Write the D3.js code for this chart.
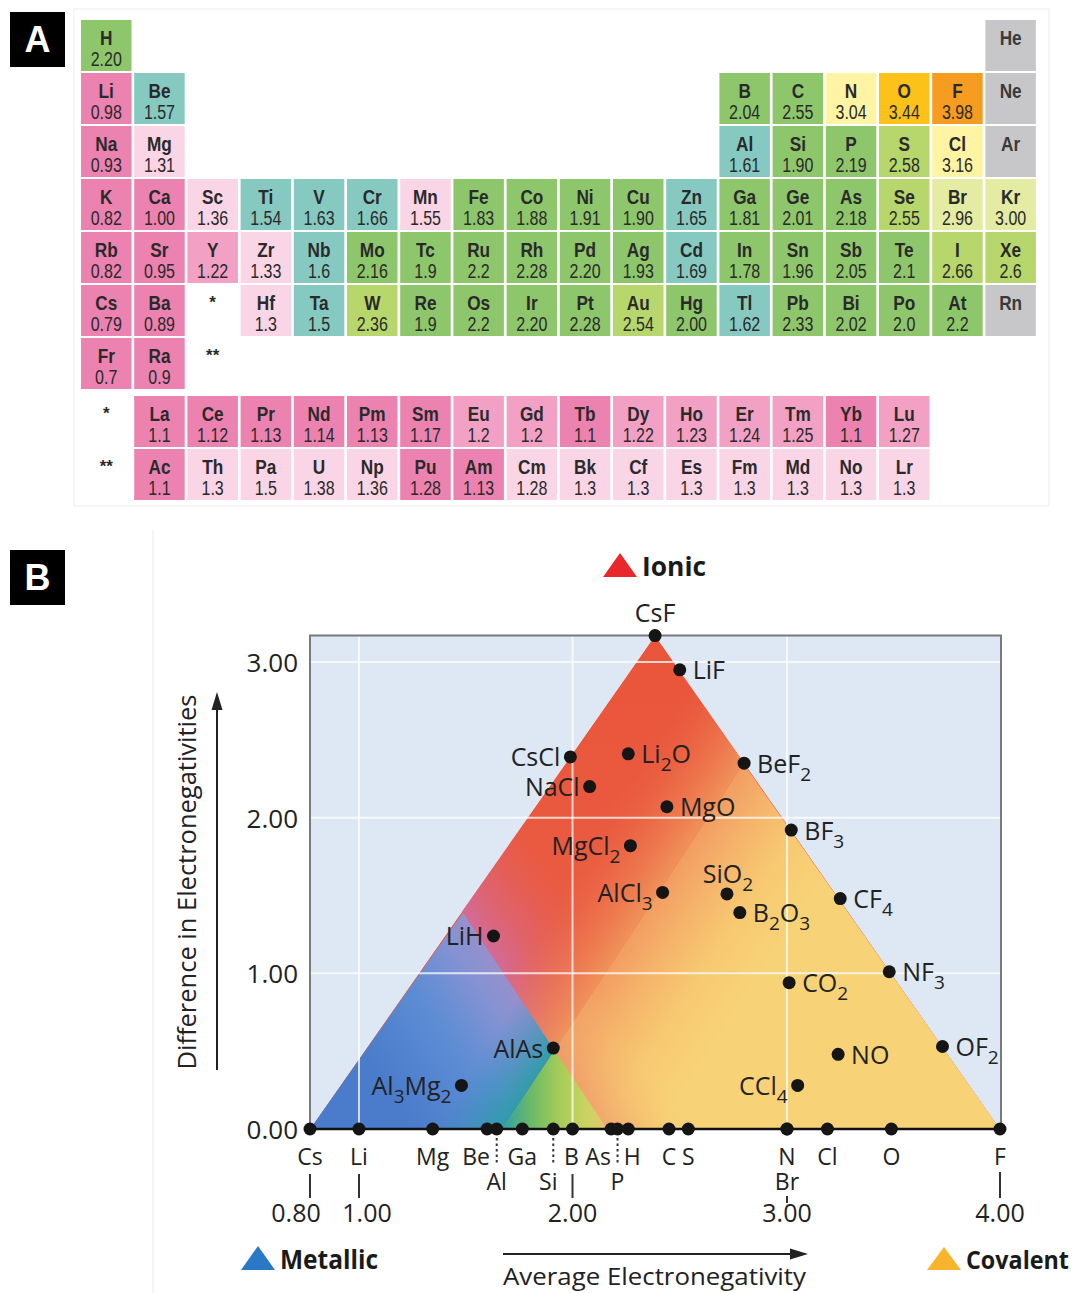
<!DOCTYPE html>
<html>
<head>
<meta charset="utf-8">
<script src="https://cdn.jsdelivr.net/npm/d3@7/dist/d3.min.js"></script>
<style>
  html,body{margin:0;padding:0;background:#fff;}
  svg{display:block;}
</style>
</head>
<body>
<svg id="chart" width="1076" height="1293"></svg>
<script>
// ================= DATA : Panel A (electronegativity table) =================
const elSymbols = [
  "H","He",
  "Li","Be","B","C","N","O","F","Ne",
  "Na","Mg","Al","Si","P","S","Cl","Ar",
  "K","Ca","Sc","Ti","V","Cr","Mn","Fe","Co","Ni","Cu","Zn","Ga","Ge","As","Se","Br","Kr",
  "Rb","Sr","Y","Zr","Nb","Mo","Tc","Ru","Rh","Pd","Ag","Cd","In","Sn","Sb","Te","I","Xe",
  "Cs","Ba","Hf","Ta","W","Re","Os","Ir","Pt","Au","Hg","Tl","Pb","Bi","Po","At","Rn",
  "Fr","Ra",
  "La","Ce","Pr","Nd","Pm","Sm","Eu","Gd","Tb","Dy","Ho","Er","Tm","Yb","Lu",
  "Ac","Th","Pa","U","Np","Pu","Am","Cm","Bk","Cf","Es","Fm","Md","No","Lr"
];
const elValues = [
  "2.20","",
  "0.98","1.57","2.04","2.55","3.04","3.44","3.98","",
  "0.93","1.31","1.61","1.90","2.19","2.58","3.16","",
  "0.82","1.00","1.36","1.54","1.63","1.66","1.55","1.83","1.88","1.91","1.90","1.65","1.81","2.01","2.18","2.55","2.96","3.00",
  "0.82","0.95","1.22","1.33","1.6","2.16","1.9","2.2","2.28","2.20","1.93","1.69","1.78","1.96","2.05","2.1","2.66","2.6",
  "0.79","0.89","1.3","1.5","2.36","1.9","2.2","2.20","2.28","2.54","2.00","1.62","2.33","2.02","2.0","2.2","",
  "0.7","0.9",
  "1.1","1.12","1.13","1.14","1.13","1.17","1.2","1.2","1.1","1.22","1.23","1.24","1.25","1.1","1.27",
  "1.1","1.3","1.5","1.38","1.36","1.28","1.13","1.28","1.3","1.3","1.3","1.3","1.3","1.3","1.3"
];
const elPeriods = [
  1,1,
  2,2,2,2,2,2,2,2,
  3,3,3,3,3,3,3,3,
  4,4,4,4,4,4,4,4,4,4,4,4,4,4,4,4,4,4,
  5,5,5,5,5,5,5,5,5,5,5,5,5,5,5,5,5,5,
  6,6,6,6,6,6,6,6,6,6,6,6,6,6,6,6,6,
  7,7,
  8,8,8,8,8,8,8,8,8,8,8,8,8,8,8,
  9,9,9,9,9,9,9,9,9,9,9,9,9,9,9
];
const elGroups = [
  1,18,
  1,2,13,14,15,16,17,18,
  1,2,13,14,15,16,17,18,
  1,2,3,4,5,6,7,8,9,10,11,12,13,14,15,16,17,18,
  1,2,3,4,5,6,7,8,9,10,11,12,13,14,15,16,17,18,
  1,2,4,5,6,7,8,9,10,11,12,13,14,15,16,17,18,
  1,2,
  2,3,4,5,6,7,8,9,10,11,12,13,14,15,16,
  2,3,4,5,6,7,8,9,10,11,12,13,14,15,16
];
const elColorClass = [
  "gr","gy",
  "pk","tl","gr","gr","py","o1","o2","gy",
  "pk","lp","tl","gr","gr","yg","py","gy",
  "pk","pk","lp","tl","tl","tl","lp","gr","gr","gr","gr","tl","gr","gr","gr","yg","lm","lm",
  "pk","pk","mp","lp","tl","gr","gr","gr","gr","gr","gr","tl","gr","gr","gr","gr","yg","yg",
  "pk","pk","lp","tl","yg","gr","gr","gr","gr","yg","gr","tl","gr","gr","gr","gr","gy",
  "pk","pk",
  "pk","pk","pk","pk","pk","pk","mp","mp","pk","mp","mp","mp","mp","pk","mp",
  "pk","lp","lp","lp","lp","pk","pk","lp","lp","lp","lp","lp","lp","lp","lp"
];
const starMarks   = ["*","**","*","**"];
const starPeriods = [6,7,8,9];
const starGroups  = [3,3,1,1];

// ================= DATA : Panel B (bond-type triangle) =================
const compoundNames = ["CsF","LiF","CsCl","Li2O","BeF2","NaCl","MgO","BF3","MgCl2","AlCl3","SiO2",
                       "B2O3","CF4","LiH","NF3","CO2","AlAs","OF2","NO","CCl4","Al3Mg2"];
const compoundAvgEN = [2.385,2.50,1.99,2.26,2.80,2.08,2.44,3.02,2.27,2.42,2.72,
                       2.78,3.25,1.63,3.48,3.01,1.91,3.73,3.24,3.05,1.48];
const compoundDiffEN = [3.17,2.95,2.39,2.41,2.35,2.20,2.07,1.92,1.82,1.52,1.51,
                        1.39,1.48,1.24,1.01,0.94,0.52,0.53,0.48,0.28,0.28];

const baseElements = ["Cs","Li","Mg","Be","Al","Ga","Si","B","As","P","H","C","S","N","Br","Cl","O","F"];
const baseEN       = [0.80,1.00,1.345,1.60,1.645,1.765,1.91,2.00,2.18,2.21,2.26,2.45,2.54,3.00,3.00,3.19,3.49,4.00];

const xTickValues = [0.8,1,2,3,4];
const xTickLabels = ["0.80","1.00","2.00","3.00","4.00"];
const yTickValues = [0,1,2,3];
const yTickLabels = ["0.00","1.00","2.00","3.00"];

// triangle corners (avg EN, diff EN): metallic, covalent, ionic
const cornerAvg  = [0.80, 4.00, 2.385];
const cornerDiff = [0.00, 0.00, 3.17];
// region boundaries (avg, diff) : top point, bottom point
const metallicEdgeAvg  = [1.487, 2.16];
const metallicEdgeDiff = [1.39, 0];
const covalentEdgeAvg  = [2.797, 1.674];
const covalentEdgeDiff = [2.35, 0];

const legendNames = ["Ionic","Metallic","Covalent"];

// ================= DRAWING =================
const svg = d3.select("#chart");
const defs = svg.append("defs");
const FONT = "'Open Sans','Noto Sans',sans-serif";
const FONT_A = "'Liberation Sans',Arial,sans-serif";
const INK = "#222";

// ---------- panel letter boxes ----------
[["A",12],["B",550]].forEach(([t,y])=>{
  svg.append("rect").attr("x",10).attr("y",y).attr("width",55).attr("height",55).attr("fill","#000");
  svg.append("text").attr("x",37.5).attr("y",y+40).attr("text-anchor","middle")
    .attr("font-family","'Liberation Sans',Arial,sans-serif").attr("font-weight","bold")
    .attr("font-size",36).attr("fill","#fff").text(t);
});

// ---------- Panel A ----------
const palette = {pk:"#ec82b0", mp:"#f2a0c4", lp:"#f9d5e5", tl:"#86c9c1", gr:"#8ec66c",
                 yg:"#b7d66c", lm:"#e4eba3", py:"#fff3a4", o1:"#fdc219", o2:"#f59c21", gy:"#c7c7c9"};
svg.append("rect").attr("x",74).attr("y",9).attr("width",975).attr("height",497)
  .attr("fill","none").attr("stroke","#f3f3f3").attr("stroke-width",1.5);

const xA = d3.scaleLinear().domain([1,18]).range([81,985.4]);
const yA = d3.scaleOrdinal().domain([1,2,3,4,5,6,7,8,9]).range([20,73,126,179,232,285,338,396,449]);
const cellW = 50.5, cellH = 51;

const elData = elSymbols.map((s,i)=>({sym:s,val:elValues[i],period:elPeriods[i],group:elGroups[i],cls:elColorClass[i]}));
const gA = svg.append("g");
const cells = gA.selectAll("g.cell").data(elData).join("g").attr("class","cell")
  .attr("transform",d=>`translate(${xA(d.group)},${yA(d.period)})`);
cells.append("rect").attr("width",cellW).attr("height",cellH).attr("fill",d=>palette[d.cls]);
cells.append("text").attr("transform",`translate(${cellW/2},25) scale(0.84,1)`)
  .attr("text-anchor","middle").attr("font-family",FONT_A).attr("font-weight","bold")
  .attr("font-size",20.5).attr("fill",d=>d.cls==="gy"?"#3a3a3a":"#2a2a2a").text(d=>d.sym);
cells.append("text").attr("transform",`translate(${cellW/2},45.5) scale(0.8,1)`)
  .attr("text-anchor","middle").attr("font-family",FONT_A)
  .attr("font-size",20).attr("fill","#2a2a2a").text(d=>d.val);

gA.selectAll("text.star").data(starMarks.map((m,i)=>({m,p:starPeriods[i],g:starGroups[i]}))).join("text")
  .attr("class","star").attr("x",d=>xA(d.g)+cellW/2).attr("y",d=>yA(d.p)+23)
  .attr("text-anchor","middle").attr("font-family",FONT_A).attr("font-weight","bold")
  .attr("font-size",17).attr("fill","#2a2a2a").text(d=>d.m);

// ---------- Panel B ----------
svg.append("line").attr("x1",153).attr("x2",153).attr("y1",530).attr("y2",1293)
  .attr("stroke","#f0f0f0").attr("stroke-width",1.5);

const xB = d3.scaleLinear().domain(xTickValues).range([310,359,572.5,787,1000]);
const yB = d3.scaleLinear().domain([0,3]).range([1129,662]);
const pt = (a,d)=>[xB(a),yB(d)];

const fx0 = xB(0.8), fx1 = xB(4)+1, fy0 = yB(3.17), fy1 = yB(0);
svg.append("rect").attr("x",fx0).attr("y",fy0).attr("width",fx1-fx0).attr("height",fy1-fy0).attr("fill","#dee8f4");

const A = pt(cornerAvg[0],cornerDiff[0]), B = pt(cornerAvg[1],cornerDiff[1]), C = pt(cornerAvg[2],cornerDiff[2]);
const M1 = pt(metallicEdgeAvg[0],metallicEdgeDiff[0]), M2 = pt(metallicEdgeAvg[1],metallicEdgeDiff[1]);
const K1 = pt(covalentEdgeAvg[0],covalentEdgeDiff[0]), K2 = pt(covalentEdgeAvg[1],covalentEdgeDiff[1]);

function intersect(P1,P2,P3,P4){
  const d=(P1[0]-P2[0])*(P3[1]-P4[1])-(P1[1]-P2[1])*(P3[0]-P4[0]);
  const a=P1[0]*P2[1]-P1[1]*P2[0], b=P3[0]*P4[1]-P3[1]*P4[0];
  return [(a*(P3[0]-P4[0])-(P1[0]-P2[0])*b)/d,(a*(P3[1]-P4[1])-(P1[1]-P2[1])*b)/d];
}
const G = intersect(M1,M2,K1,K2);

function normalToward(P,Q,R){
  const dx=Q[0]-P[0], dy=Q[1]-P[1], L=Math.hypot(dx,dy);
  let n=[-dy/L,dx/L];
  if(n[0]*(R[0]-P[0])+n[1]*(R[1]-P[1])<0) n=[-n[0],-n[1]];
  return n;
}
function strip(P,Q,n,w){
  const dx=Q[0]-P[0], dy=Q[1]-P[1], L=Math.hypot(dx,dy), u=[dx/L,dy/L], e=600;
  const P2=[P[0]-u[0]*e,P[1]-u[1]*e], Q2=[Q[0]+u[0]*e,Q[1]+u[1]*e];
  return [P2,Q2,[Q2[0]+n[0]*w,Q2[1]+n[1]*w],[P2[0]+n[0]*w,P2[1]+n[1]*w]];
}
let gid=0;
function grad(p0,p1,stops){
  const id="g"+(gid++);
  const g=defs.append("linearGradient").attr("id",id).attr("gradientUnits","userSpaceOnUse")
    .attr("x1",p0[0]).attr("y1",p0[1]).attr("x2",p1[0]).attr("y2",p1[1]);
  stops.forEach(s=>g.append("stop").attr("offset",s[0]).attr("stop-color",s[1]).attr("stop-opacity",s[2]===undefined?1:s[2]));
  return `url(#${id})`;
}
function clip(pts){
  const id="c"+(gid++);
  defs.append("clipPath").attr("id",id).append("polygon").attr("points",pts.map(p=>p.join(",")).join(" "));
  return `url(#${id})`;
}
const poly = (g,pts,fill)=>g.append("polygon").attr("points",pts.map(p=>p.join(",")).join(" ")).attr("fill",fill);
const along = (P,n,w)=>[P[0]+n[0]*w,P[1]+n[1]*w];

const gT = svg.append("g").attr("clip-path",clip([A,B,C]));
// ionic (red) base
poly(gT,[A,B,C],grad([0,fy0],[0,fy1],[[0,"#ea5539"],[1,"#e9604a"]]));
// pink blend on ionic side of metallic edge
const nMR = normalToward(M1,M2,C);
poly(gT,strip(M1,M2,nMR,110),grad(M1,along(M1,nMR,110),[[0,"#d16c9c",0.95],[0.45,"#dd6478",0.55],[1,"#e85a40",0]]));
// orange blend on ionic side of covalent edge
const nKR = normalToward(K1,K2,A);
poly(gT,strip(K1,K2,nKR,90),grad(K1,along(K1,nKR,90),[[0,"#f0925a",1],[0.5,"#ee7a4e",0.55],[1,"#e9603f",0]]));
// metallic (blue)
const nMB = normalToward(M1,M2,A);
poly(gT,[A,M1,M2],grad(M1,along(M1,nMB,160),[[0,"#9790cc"],[0.18,"#8492d3"],[0.5,"#5e8dd4"],[1,"#4a7ccb"]]));
// teal tint in blue near covalent edge
const gBlue = gT.append("g").attr("clip-path",clip([A,M1,M2]));
const nKB = normalToward(K1,K2,A);
poly(gBlue,strip(K1,K2,nKB,60),grad(K2,along(K2,nKB,60),[[0,"#2c9ea6",0.95],[1,"#3a8fc0",0]]));
// covalent (yellow)
const nKY = normalToward(K1,K2,B);
poly(gT,[K1,K2,B],grad(K1,along(K1,nKY,130),[[0,"#f29d63"],[0.3,"#f5b46b"],[0.62,"#f7c972"],[1,"#f8d277"]]));
// orange tint in yellow near metallic edge
const gYel = gT.append("g").attr("clip-path",clip([K1,K2,B]));
const nMY = normalToward(M1,M2,B);
poly(gYel,strip(M1,M2,nMY,70),grad(M2,along(M2,nMY,70),[[0,"#ef9a6c",0.7],[1,"#f6c070",0]]));
// overlap (green)
poly(gT,[K2,G,M2],grad(K2,M2,[[0,"#2fa0a6"],[0.28,"#6cbb66"],[0.55,"#a7cc57"],[0.8,"#c9d462"],[1,"#eac56c"]]));

// gridlines
const gGrid = svg.append("g").attr("stroke","#ffffff").attr("stroke-width",2).attr("stroke-opacity",0.75);
gGrid.selectAll("line.h").data(yTickValues.filter(v=>v>0)).join("line")
  .attr("x1",fx0).attr("x2",fx1).attr("y1",d=>yB(d)).attr("y2",d=>yB(d));
gGrid.selectAll("line.v").data([1,2,3]).join("line")
  .attr("y1",fy0).attr("y2",fy1).attr("x1",d=>xB(d)).attr("x2",d=>xB(d));

// frame
svg.append("path").attr("d",`M${fx0},${fy1}V${fy0}H${fx1}V${fy1}`)
  .attr("fill","none").attr("stroke","#7a7a7a").attr("stroke-width",2);
svg.append("line").attr("x1",fx0).attr("x2",fx1).attr("y1",fy1).attr("y2",fy1)
  .attr("stroke","#111").attr("stroke-width",2.5);

// y axis
const yAxis = d3.axisLeft(yB).tickValues(yTickValues).tickFormat((d,i)=>yTickLabels[i]).tickSize(0).tickPadding(12);
const gy = svg.append("g").attr("transform",`translate(${fx0},0)`).call(yAxis);
gy.select(".domain").remove();
gy.selectAll("text").attr("font-size",26).attr("font-family",FONT).attr("fill",INK).attr("dy","0.36em");

// y title + arrow
svg.append("text").attr("transform","translate(196,882) rotate(-90)").attr("text-anchor","middle")
  .attr("font-family",FONT).attr("font-size",25).attr("fill",INK)
  .attr("textLength",375).attr("lengthAdjust","spacingAndGlyphs").text("Difference in Electronegativities");
svg.append("line").attr("x1",217).attr("x2",217).attr("y1",1070).attr("y2",706).attr("stroke",INK).attr("stroke-width",2);
svg.append("path").attr("d","M217,692 L211.5,710 L222.5,710 Z").attr("fill",INK);

// x title + arrow
svg.append("line").attr("x1",503).attr("x2",795).attr("y1",1254).attr("y2",1254).attr("stroke",INK).attr("stroke-width",2);
svg.append("path").attr("d","M808,1254 L790,1248.5 L790,1259.5 Z").attr("fill",INK);
svg.append("text").attr("x",654.5).attr("y",1285).attr("text-anchor","middle")
  .attr("font-family",FONT).attr("font-size",24).attr("fill",INK)
  .attr("textLength",303).attr("lengthAdjust","spacingAndGlyphs").text("Average Electronegativity");

// baseline element dots, labels, connectors
const baseLayout = {Be:{dx:-11},Al:{row:2,dot:true},Si:{row:2,dot:true,dx:-5},As:{dx:-13},P:{row:2,dot:true},H:{dx:4},B:{dx:-1},Br:{row:2}};
const gBase = svg.append("g");
baseElements.forEach((s,i)=>{
  const L = baseLayout[s]||{};
  const x = xB(baseEN[i]);
  if(L.dot) gBase.append("line").attr("x1",x).attr("x2",x).attr("y1",1138).attr("y2",1163)
      .attr("stroke","#333").attr("stroke-width",2).attr("stroke-dasharray","2.5,3");
  gBase.append("text").attr("x",x+(L.dx||0)).attr("y",L.row===2?1190:1165).attr("text-anchor","middle")
    .attr("font-family",FONT).attr("font-size",23).attr("fill",INK).text(s);
});
// ticks to value labels
const tickStart = {0.8:1174,1:1174,2:1174,3:1196,4:1172};
const tickDx = {0.8:-14,1:8,2:0,3:0,4:0};
xTickValues.forEach((v,i)=>{
  const x = xB(v);
  gBase.append("line").attr("x1",x).attr("x2",x).attr("y1",tickStart[v]).attr("y2",v===3?1203:1198)
    .attr("stroke","#333").attr("stroke-width",2);
  gBase.append("text").attr("x",x+tickDx[v]).attr("y",1222).attr("text-anchor","middle")
    .attr("font-family",FONT).attr("font-size",25).attr("fill",INK).text(xTickLabels[i]);
});
gBase.selectAll("circle").data(baseEN).join("circle")
  .attr("cx",d=>xB(d)).attr("cy",yB(0)).attr("r",6.5).attr("fill","#151515");

// compounds
const labelSide = {CsF:"top",LiF:"right",CsCl:"left",Li2O:"right",BeF2:"right",NaCl:"left",MgO:"right",
  BF3:"right",MgCl2:"left",AlCl3:"left",SiO2:"above",B2O3:"right",CF4:"right",LiH:"left",NF3:"right",
  CO2:"right",AlAs:"left",OF2:"right",NO:"right",CCl4:"left",Al3Mg2:"left"};
function formula(t,str){
  const parts = str.match(/\d+|\D+/g);
  let sub=false;
  parts.forEach(p=>{
    const isNum=/^\d+$/.test(p);
    const ts=t.append("tspan").text(p);
    if(isNum){ts.attr("font-size",19).attr("dy",8); sub=true;}
    else if(sub){ts.attr("dy",-8); sub=false;}
  });
}
const gC = svg.append("g");
compoundNames.forEach((n,i)=>{
  const cx=xB(compoundAvgEN[i]), cy=yB(compoundDiffEN[i]);
  const side=labelSide[n];
  gC.append("circle").attr("cx",cx).attr("cy",cy).attr("r",6.5).attr("fill","#151515");
  const t=gC.append("text").attr("font-family",FONT).attr("font-size",25).attr("fill",INK);
  if(side==="right") t.attr("x",cx+13).attr("y",cy+9.5).attr("text-anchor","start");
  else if(side==="left") t.attr("x",cx-10).attr("y",cy+9.5).attr("text-anchor","end");
  else if(side==="top") t.attr("x",cx).attr("y",cy-14).attr("text-anchor","middle");
  else t.attr("x",cx+1).attr("y",cy-11).attr("text-anchor","middle");
  formula(t,n);
});

// legend
const legendPos = [[603,553,577,"#e8282a",642,64,27],[241,1246,1270,"#2a79c7",280,98,27],[927,1247,1270,"#f7b52d",966,103,25]];
legendNames.forEach((name,i)=>{
  const [x,top,bot,col,tx,tl,fs]=legendPos[i];
  svg.append("path").attr("d",`M${x},${bot} L${x+34},${bot} L${x+17},${top} Z`).attr("fill",col);
  svg.append("text").attr("x",tx).attr("y",bot-1).attr("font-family",FONT).attr("font-weight","bold")
    .attr("font-size",fs).attr("fill","#1a1a1a").attr("textLength",tl).attr("lengthAdjust","spacingAndGlyphs").text(name);
});
</script>
</body>
</html>
